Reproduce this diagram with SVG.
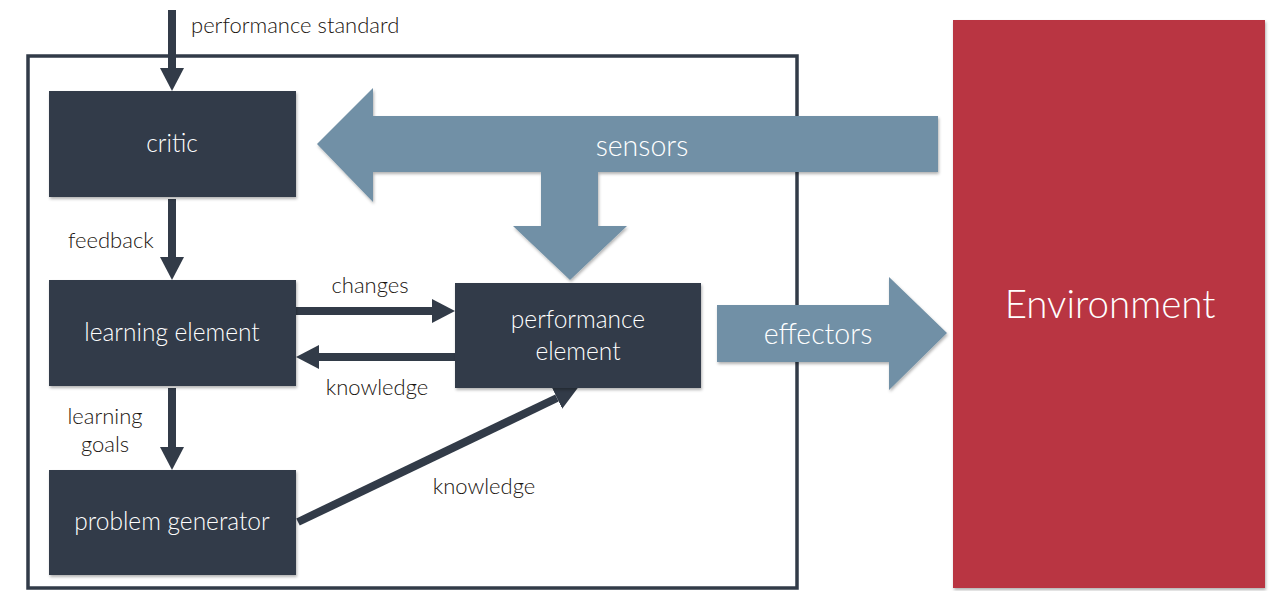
<svg xmlns="http://www.w3.org/2000/svg" width="1280" height="591" viewBox="0 0 1280 591">
<style>
.box{fill:#323b48;}
.shadowed{filter:url(#sh);}
.lbl{font-family:Lato,"Open Sans","Liberation Sans",sans-serif;font-weight:300;fill:#ffffff;font-size:24.5px;text-anchor:middle;}
.small{font-family:Lato,"Open Sans","Liberation Sans",sans-serif;font-weight:300;fill:#1a140f;font-size:22px;}
.big{font-family:Lato,"Open Sans","Liberation Sans",sans-serif;font-weight:300;fill:#ffffff;font-size:28.5px;text-anchor:middle;}
.conn{stroke:#323b48;stroke-width:8;fill:none;}
.blue{fill:#7190a6;}
</style>
<defs>
<filter id="sh" x="-10%" y="-10%" width="120%" height="130%">
<feDropShadow dx="1" dy="2" stdDeviation="1.5" flood-color="#000" flood-opacity="0.3"/>
</filter>
<marker id="ah" markerUnits="userSpaceOnUse" markerWidth="24" markerHeight="26" viewBox="0 -13 24 26" refX="0" refY="0" orient="auto">
<path d="M0,-12 L23,0 L0,12 z" fill="#323b48"/>
</marker>
</defs>
<rect x="28" y="56" width="769" height="532" fill="none" stroke="#323b48" stroke-width="3.5"/>
<g id="environment">
<rect x="953" y="20" width="312" height="568" fill="#b93542" class="shadowed"/>
<text x="1110" y="318" class="big" style="font-size:38.5px">Environment</text>
</g>
<g id="sensors">
<path class="blue shadowed" d="M317,144 L373,88 L373,116 L938,116 L938,172 L598,172 L598,226 L627,226 L570,280 L513,226 L541,226 L541,172 L373,172 L373,202 Z"/>
<text x="642" y="156" class="big">sensors</text>
</g>
<g id="effectors">
<path class="blue shadowed" d="M717,305 L889,305 L889,277 L947,333 L889,390 L889,362 L717,362 Z"/>
<text x="818" y="344" class="big">effectors</text>
</g>
<g id="connectors">
<line class="conn" x1="172" y1="10" x2="172" y2="68" marker-end="url(#ah)"/>
<line class="conn" x1="172" y1="199" x2="172" y2="257" marker-end="url(#ah)"/>
<line class="conn" x1="172" y1="388" x2="172" y2="447" marker-end="url(#ah)"/>
<line class="conn" x1="296" y1="311" x2="432" y2="311" marker-end="url(#ah)"/>
<line class="conn" x1="455" y1="357" x2="319" y2="357" marker-end="url(#ah)"/>
<line class="conn" x1="298" y1="522" x2="557" y2="398" marker-end="url(#ah)"/>
<text x="191" y="33" class="small">performance standard</text>
<text x="68" y="248" class="small">feedback</text>
<text x="105" y="424" class="small" text-anchor="middle">learning</text>
<text x="105" y="452" class="small" text-anchor="middle">goals</text>
<text x="370" y="293" class="small" text-anchor="middle">changes</text>
<text x="377" y="395" class="small" text-anchor="middle">knowledge</text>
<text x="484" y="494" class="small" text-anchor="middle">knowledge</text>
</g>
<g id="critic">
<rect class="box shadowed" x="49" y="91" width="247" height="106"/>
<text x="172" y="152" class="lbl">critic</text>
</g>
<g id="learning-element">
<rect class="box shadowed" x="49" y="280" width="247" height="106"/>
<text x="172" y="341" class="lbl">learning element</text>
</g>
<g id="problem-generator">
<rect class="box shadowed" x="49" y="470" width="247" height="105"/>
<text x="172" y="530" class="lbl">problem generator</text>
</g>
<g id="performance-element">
<rect class="box shadowed" x="455" y="283" width="246" height="105"/>
<text x="578" y="328" class="lbl">performance</text>
<text x="578" y="360" class="lbl">element</text>
</g>
</svg>
